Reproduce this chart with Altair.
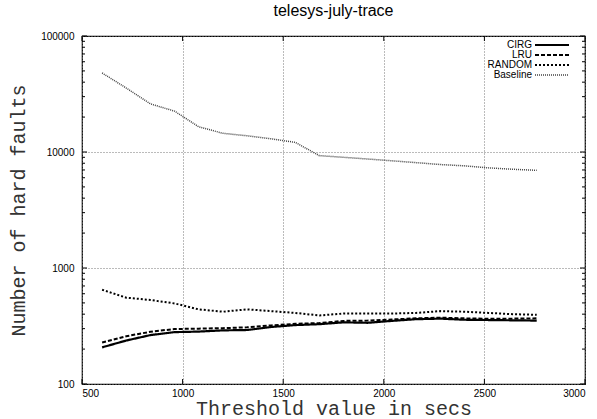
import altair as alt
import pandas as pd

thresholds = [600, 720, 840, 960, 1080, 1200, 1320, 1440, 1560, 1680,
              1800, 1920, 2040, 2160, 2280, 2400, 2520, 2640, 2760]
cirg = [207, 237, 264, 280, 283, 290, 292, 310, 322, 328,
        340, 337, 350, 362, 366, 358, 356, 354, 352]
lru = [228, 258, 282, 298, 300, 303, 308, 320, 330, 335,
       350, 352, 360, 368, 373, 368, 365, 366, 368]
random_ = [650, 555, 530, 495, 440, 420, 440, 425, 410, 390,
           405, 405, 405, 410, 425, 420, 410, 400, 395]
baseline = [48000, 35600, 26000, 22500, 16500, 14500, 13800, 13000, 12100, 9300,
            9000, 8700, 8400, 8100, 7800, 7600, 7300, 7100, 6950]

series_names = ["CIRG", "LRU", "RANDOM", "Baseline"]
series_values = [cirg, lru, random_, baseline]
series_colors = ["#000000", "#000000", "#000000", "#444444"]
series_dash = [[1, 0], [4, 2], [2, 2], [1, 1]]
series_width = [2.2, 2, 2, 1.5]

x_ticks = [500, 1000, 1500, 2000, 2500, 3000]
y_major = [100, 1000, 10000, 100000]
y_minor = [m * d for d in [100, 1000, 10000] for m in range(2, 10)]

W, H = 503, 348
xscale = alt.Scale(domain=[500, 3000], nice=False, zero=False)
yscale = alt.Scale(type="log", domain=[100, 100000], nice=False)

xaxis = alt.Axis(values=x_ticks, title="Threshold value in secs", format="d",
                 grid=True, gridColor="#777", gridDash=[1, 2], gridWidth=1,
                 ticks=False, labelPadding=4, domain=False,
                 labelFont="Liberation Sans", labelFontSize=10, labelColor="#000",
                 titleFont="Liberation Mono", titleFontSize=20,
                 titleFontWeight="normal", titleColor="#333", titlePadding=0)
yaxis = alt.Axis(values=y_major, title="Number of hard faults", format="d",
                 grid=True, gridColor="#777", gridDash=[1, 2], gridWidth=1,
                 ticks=False, labelPadding=8, domain=False,
                 labelFont="Liberation Sans", labelFontSize=10, labelColor="#000",
                 titleFont="Liberation Mono", titleFontSize=20,
                 titleFontWeight="normal", titleColor="#333", titlePadding=12)

layers = []
for i, (name, vals) in enumerate(zip(series_names, series_values)):
    d = pd.DataFrame({"threshold": thresholds, "faults": vals, "series": name})
    line = alt.Chart(d).mark_line(
        clip=True, color=series_colors[i], strokeDash=series_dash[i],
        strokeWidth=series_width[i]).encode(
        x=alt.X("threshold:Q", scale=xscale, axis=xaxis),
        y=alt.Y("faults:Q", scale=yscale, axis=yaxis),
        order="threshold:Q")
    layers.append(line)

    # legend entry (gnuplot style: label then sample line)
    ly = 9 + 10 * i
    lab = alt.Chart(pd.DataFrame({"series": [name]})).mark_text(
        align="right", baseline="middle", font="Liberation Sans", fontSize=10,
        color="#000").encode(text="series:N", x=alt.value(450), y=alt.value(ly))
    sample = alt.Chart(pd.DataFrame({"series": [name]})).mark_rule(
        color=series_colors[i], strokeDash=series_dash[i],
        strokeWidth=series_width[i]).encode(
        x=alt.value(453), x2=alt.value(487), y=alt.value(ly))
    layers += [lab, sample]

ymaj = pd.DataFrame({"threshold": [500] * len(y_major), "faults": y_major})
ymin = pd.DataFrame({"threshold": [500] * len(y_minor), "faults": y_minor})
xt = pd.DataFrame({"threshold": x_ticks, "faults": [100] * len(x_ticks)})

def yticks(data, length):
    left = alt.Chart(data).mark_rule(color="#000", strokeWidth=1).encode(
        y=alt.Y("faults:Q", scale=yscale, axis=yaxis), x=alt.value(0), x2=alt.value(length))
    right = alt.Chart(data).mark_rule(color="#000", strokeWidth=1).encode(
        y=alt.Y("faults:Q", scale=yscale, axis=yaxis), x=alt.value(W - length), x2=alt.value(W))
    return [left, right]

xbottom = alt.Chart(xt).mark_rule(color="#000", strokeWidth=1).encode(
    x=alt.X("threshold:Q", scale=xscale, axis=xaxis), y=alt.value(H - 5), y2=alt.value(H))
xtop = alt.Chart(xt).mark_rule(color="#000", strokeWidth=1).encode(
    x=alt.X("threshold:Q", scale=xscale, axis=xaxis), y=alt.value(0), y2=alt.value(5))

layers += yticks(ymaj, 5) + yticks(ymin, 3) + [xbottom, xtop]

chart = alt.layer(*layers).properties(
    width=W, height=H,
    title=alt.Title("telesys-july-trace", font="Liberation Sans", fontSize=16,
                    fontWeight="normal", color="#000", offset=12),
    autosize=alt.AutoSizeParams(type="none"),
    padding={"left": 82, "top": 36, "right": 12, "bottom": 35},
).configure(background="white").configure_view(stroke="#000", strokeWidth=1.2)

chart.save("out.html", embed_options={"renderer": "svg", "actions": False})
